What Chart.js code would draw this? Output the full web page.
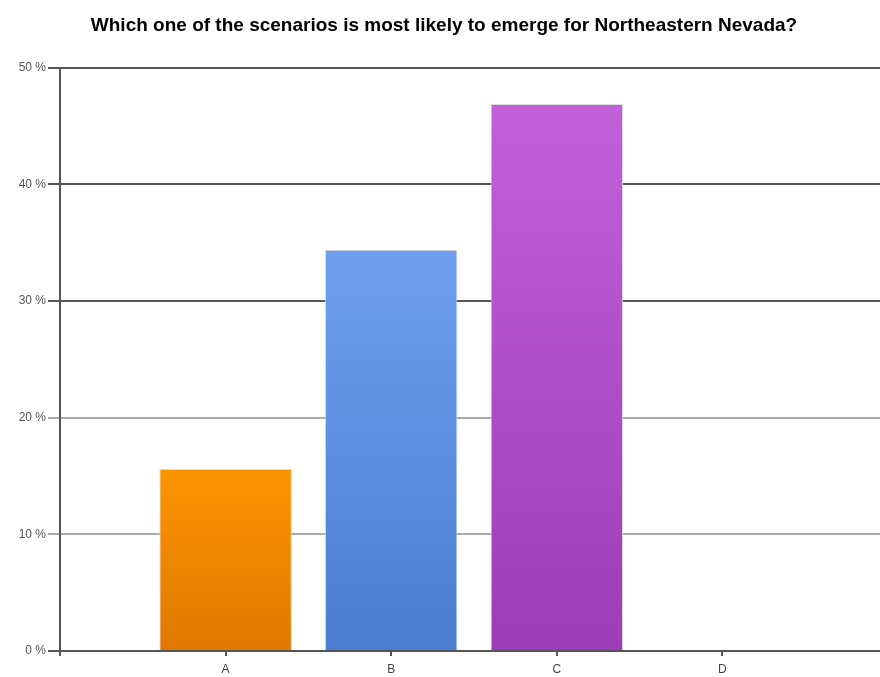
<!DOCTYPE html>
<html>
<head>
<meta charset="utf-8">
<script src="https://cdn.jsdelivr.net/npm/chart.js@4/dist/chart.umd.min.js"></script>
<style>
html,body{margin:0;padding:0;background:#fff;overflow:hidden;}
#wrap{width:888px;height:677px;}
</style>
</head>
<body>
<div id="wrap"><canvas id="c" width="888" height="677"></canvas></div>
<script>
const titleText = "Which one of the scenarios is most likely to emerge for Northeastern Nevada?";
const categories = ["A", "B", "C", "D"];
const percentValues = [15.6, 34.4, 46.9, 0];
const yTicks = [0, 10, 20, 30, 40, 50];

const gradientStops = [
  ["#fb9500", "#e07800"],
  ["#6f9fee", "#4b7dd0"],
  ["#c260da", "#9c3cb7"],
  ["#888888", "#888888"]
];

const labels = ["", ...categories, ""];
const data = [null, ...percentValues, null];

function barFill(ctx) {
  const chart = ctx.chart;
  const area = chart.chartArea;
  const i = ctx.dataIndex - 1;
  if (!area || i < 0 || i >= gradientStops.length) return "#888";
  const yScale = chart.scales.y;
  const topPx = yScale.getPixelForValue(percentValues[i]);
  const g = chart.ctx.createLinearGradient(0, topPx, 0, area.bottom);
  g.addColorStop(0, gradientStops[i][0]);
  g.addColorStop(1, gradientStops[i][1]);
  return g;
}

new Chart(document.getElementById("c"), {
  type: "bar",
  data: {
    labels: labels,
    datasets: [{
      data: data,
      backgroundColor: barFill,
      borderColor: "rgba(215,215,215,0.9)",
      borderWidth: 1,
      borderSkipped: "bottom",
      categoryPercentage: 0.8,
      barPercentage: 1.0
    }]
  },
  options: {
    responsive: false,
    animation: false,
    layout: { padding: { left: 0, right: 0, top: 0, bottom: 0 } },
    plugins: {
      legend: { display: false },
      tooltip: { enabled: false },
      title: {
        display: true,
        text: titleText,
        color: "#000",
        font: { family: "Liberation Sans, Arial, sans-serif", size: 19, weight: "bold" },
        padding: { top: 14, bottom: 31 }
      }
    },
    scales: {
      x: {
        type: "category",
        offset: false,
        afterFit: (s) => { s.height = 26; s.paddingLeft = 0; s.paddingRight = 0; },
        grid: {
          offset: false,
          drawOnChartArea: false,
          drawTicks: true,
          tickLength: 5,
          color: "#555",
          lineWidth: 2
        },
        border: { display: true, color: "#555", width: 2 },
        ticks: {
          color: "#444",
          font: { family: "Liberation Sans, Arial, sans-serif", size: 12 },
          padding: 6,
          maxRotation: 0,
          autoSkip: false
        }
      },
      y: {
        min: 0,
        max: 50,
        afterFit: (s) => { s.width = 60; },
        afterBuildTicks: (s) => { s.ticks = yTicks.map(v => ({ value: v })); },
        grid: {
          color: (c) => (c.tick && (c.tick.value >= 30 || c.tick.value === 0) ? "#555" : "#aaa"),
          lineWidth: 2,
          tickLength: 12
        },
        border: { display: true, color: "#555", width: 2 },
        ticks: {
          color: "#555",
          font: { family: "Liberation Sans, Arial, sans-serif", size: 12 },
          padding: 2,
          callback: (v) => v + " %"
        }
      }
    }
  }
});
</script>
</body>
</html>
